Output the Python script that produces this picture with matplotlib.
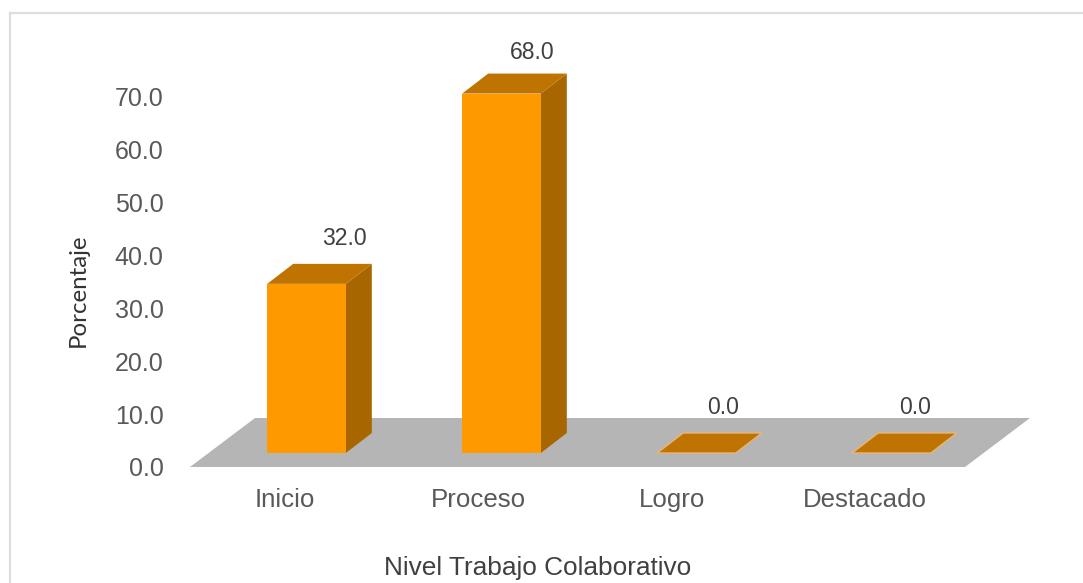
import matplotlib
matplotlib.use("Agg")
import matplotlib.pyplot as plt
from matplotlib.lines import Line2D
from matplotlib.patches import Polygon

categories = ["Inicio", "Proceso", "Logro", "Destacado"]
values = [32.0, 68.0, 0.0, 0.0]
y_ticks = [0, 10, 20, 30, 40, 50, 60, 70]
x_title = "Nivel Trabajo Colaborativo"
y_title = "Porcentaje"

W, H = 1083, 583
FRONT, SIDE, TOP = "#FF9900", "#A86600", "#BF7300"
FLOOR = "#B5B5B5"
TICK_COLOR = "#595959"
LABEL_COLOR = "#404040"
SANS = "Liberation Sans"

# layout, in pixels of the figure (y measured downward)
AX_L, AX_R, AX_B, AX_T = 190, 965, 467, 73
Y0_PX, Y70_PX = 467, 97
X0_PX, X_STEP = 306.5, 195.0
PX_Y = (Y0_PX - Y70_PX) / 70.0

fig = plt.figure(figsize=(W / 100, H / 100), dpi=100, facecolor="white")
ax = fig.add_axes([AX_L / W, 1 - AX_B / H, (AX_R - AX_L) / W, (AX_B - AX_T) / H])
ax.set_facecolor("none")
ax.set_xlim((AX_L - X0_PX) / X_STEP, (AX_R - X0_PX) / X_STEP)
ax.set_ylim(0, (AX_B - AX_T) / PX_Y)
for s in ax.spines.values():
    s.set_visible(False)


def dx(px):
    return px / X_STEP


def dy(px):
    return px / PX_Y


# floor of the 3-D chart
x_lo, x_hi = ax.get_xlim()
ax.add_patch(Polygon([(x_lo, 0), (x_hi, 0), (x_hi + dx(65), dy(49)), (x_lo + dx(65), dy(49))],
                     closed=True, fc=FLOOR, ec="none", zorder=1, clip_on=False))

# bars, drawn obliquely above the floor
half = dx(39.3)
base = dy(14)
depth_x, depth_y = dx(26), dy(20)
label_shift = [(38, 45), (31, 41), (27, 46), (24, 46)]
for i, v in enumerate(values):
    l, r, b, t = i - half, i + half, base, base + v
    if v > 0:
        ax.add_patch(Polygon([(r, b), (r + depth_x, b + depth_y), (r + depth_x, t + depth_y), (r, t)],
                             closed=True, fc=SIDE, ec="none", zorder=3))
        ax.add_patch(Polygon([(l, b), (r, b), (r, t), (l, t)],
                             closed=True, fc=FRONT, ec="none", zorder=4))
        top_edge = "none"
    else:
        top_edge = "#E8B577"
    ax.add_patch(Polygon([(l, t), (r, t), (r + depth_x, t + depth_y), (l + depth_x, t + depth_y)],
                         closed=True, fc=TOP, ec=top_edge, lw=1.0, zorder=3))
    sx, sy = label_shift[i]
    ax.annotate(f"{v:.1f}", xy=(i, t), xytext=(sx * 0.72, sy * 0.72), textcoords="offset points",
                ha="center", va="center", fontsize=16.6, family=SANS, color=LABEL_COLOR,
                annotation_clip=False, zorder=5)

# axes text
ax.set_yticks(y_ticks, [f"{t:.1f}" for t in y_ticks], family=SANS, fontsize=18, color=TICK_COLOR)
ax.tick_params(axis="y", length=0, pad=19)
tick_x = [(285 + i * 193.4 - X0_PX) / X_STEP for i in range(len(categories))]
ax.set_xticks(tick_x, categories, family=SANS, fontsize=18.6, color=TICK_COLOR)
ax.tick_params(axis="x", length=0, pad=15)

ax.set_xlabel(x_title, family=SANS, fontsize=18.9, color=LABEL_COLOR, va="center", ha="center")
ax.xaxis.set_label_coords(538 / W, 1 - 568 / H, transform=fig.transFigure)
ax.set_ylabel(y_title, family="Lato", fontsize=17.3, color="#333333", va="center", ha="center")
ax.yaxis.set_label_coords(78 / W, 1 - 290 / H, transform=fig.transFigure)

# chart-area border: left and top edges are the visible ones
border = "#DDDDDD"
fig.add_artist(Line2D([9.5 / W, 9.5 / W], [0, 1 - 12.5 / H], transform=fig.transFigure, color=border, lw=1.6))
fig.add_artist(Line2D([9.5 / W, 1], [1 - 12.5 / H, 1 - 12.5 / H], transform=fig.transFigure, color=border, lw=1.6))

fig.savefig("out.png", dpi=100, facecolor="white")
